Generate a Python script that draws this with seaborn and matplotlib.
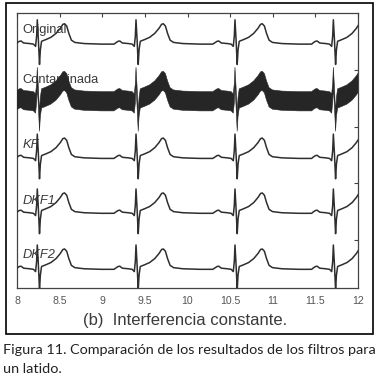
import matplotlib
matplotlib.use("Agg")
import matplotlib.pyplot as plt
import seaborn as sns
import numpy as np
import pandas as pd
from matplotlib.patches import Rectangle

# R-peak times (s)
r_times = [8.238, 9.396, 10.557, 11.711]

beat_dt = [-0.24, -0.21, -0.19, -0.16, -0.09, -0.045, -0.02, -0.008, 0.0, 0.012,
           0.026, 0.036, 0.05, 0.1, 0.16, 0.22, 0.27, 0.30, 0.32, 0.345,
           0.37, 0.40, 0.44, 0.55, 0.75, 0.9]
beat_amp = [0.0, 0.03, 0.035, 0.0, -0.01, -0.02, -0.06, 0.12, 0.41, 0.08,
            -0.38, -0.12, 0.03, 0.06, 0.10, 0.17, 0.26, 0.33, 0.34, 0.30,
            0.17, 0.05, 0.01, -0.01, -0.02, -0.02]

trace_names = ["Original", "Contaminada", "KF", "DKF1", "DKF2"]
trace_base = [3.98, 2.97, 1.96, 0.99, 0.0]
label_dy = [0.23, 0.35, 0.21, 0.20, 0.23]
label_italic = [False, False, True, True, True]
noise_half = 0.17   # half thickness of the contaminated band

x_ticks = [8, 8.5, 9, 9.5, 10, 10.5, 11, 11.5, 12]
x_labels = ["8", "8.5", "9", "9.5", "10", "10.5", "11", "11.5", "12"]

rows = []
for name, base in zip(trace_names, trace_base):
    for r in r_times:
        for dt, a in zip(beat_dt, beat_amp):
            rows.append({"trace": name, "t": r + dt, "v": base + a})
df = pd.DataFrame(rows)

sns.set_style("white")
plt.rcParams["font.family"] = ["Liberation Sans", "DejaVu Sans"]

fig = plt.figure(figsize=(3.79, 3.79), dpi=100)
ax = fig.add_axes([17 / 379, 91 / 379, 341 / 379, 275 / 379])

line_col = "#2e2e2e"
for name in trace_names:
    d = df[df["trace"] == name]
    if name == "Contaminada":
        ax.fill_between(d["t"], d["v"] - noise_half, d["v"] + noise_half,
                        color="#262626", lw=0.4, zorder=3)
    else:
        sns.lineplot(data=d, x="t", y="v", ax=ax, color=line_col, lw=1.1,
                     sort=False, estimator=None, zorder=3)

for name, base, dy, it in zip(trace_names, trace_base, label_dy, label_italic):
    ax.text(8.06, base + dy, name, fontsize=9.3, color="#3a3a3a",
            style="italic" if it else "normal", va="center", ha="left", zorder=2)

ax.set_xlim(8, 12)
ax.set_ylim(-0.35, 4.51)
ax.set_xticks(x_ticks)
ax.set_xticklabels(x_labels)
ax.set_yticks([0.5, 1.5, 2.5, 3.5])
ax.set_yticklabels([])
ax.set_xlabel("")
ax.set_ylabel("")
ax.tick_params(direction="in", length=3, width=0.8, color="#444444",
               top=True, right=True, labelsize=7.6, labelcolor="#555555", pad=6)
for s in ax.spines.values():
    s.set_color("#444444")
    s.set_linewidth(0.9)

fig.text(185 / 379, 1 - 320 / 379, "(b)  Interferencia constante.", ha="center",
         va="center", fontsize=12, color="#3a3a3a")
fig.add_artist(Rectangle((6 / 379, 1 - 334 / 379), 367 / 379, 331 / 379,
                         transform=fig.transFigure, fill=False, lw=1.2, ec="black"))
fig.text(3 / 379, 1 - 350 / 379,
         "Figura 11. Comparación de los resultados de los filtros para",
         ha="left", va="center", fontsize=10.4, color="#222222", family="Lato")
fig.text(3 / 379, 1 - 369 / 379, "un latido.", ha="left", va="center",
         fontsize=10.4, color="#222222", family="Lato")

fig.savefig("out.png", dpi=100)
